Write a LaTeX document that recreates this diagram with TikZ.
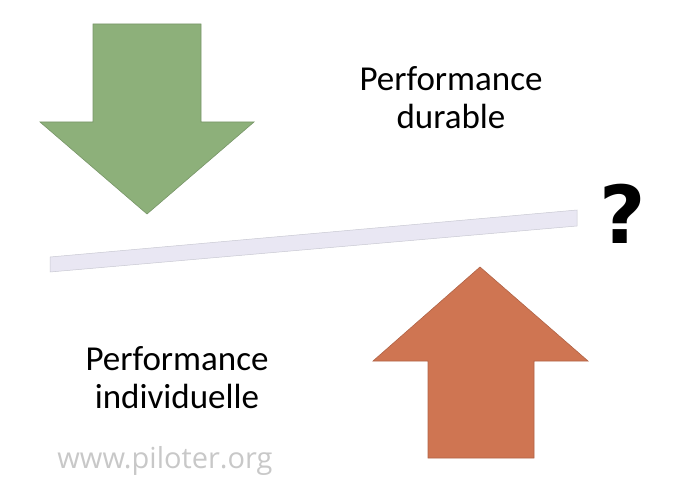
\documentclass[tikz,border=0pt]{standalone}
\usepackage{fontspec}
\setmainfont{Carlito}
\newfontfamily\webfont{Open Sans}
\newfontfamily\markfont{DejaVu Sans}
\usetikzlibrary{positioning}

\definecolor{greenarrow}{RGB}{141,176,122}
\definecolor{orangearrow}{RGB}{207,117,82}
\definecolor{barfill}{RGB}{233,231,243}
\definecolor{baredge}{RGB}{200,200,210}
\definecolor{webgray}{RGB}{200,200,200}

\begin{document}
\begin{tikzpicture}[x=1pt, y=-1pt,
    bigtext/.style={align=center, inner sep=0pt, font=\fontsize{35}{38}\selectfont},
    fatarrow/.style={line width=0.6pt, line join=miter}]
    \useasboundingbox (0,0) rectangle (700,489);

    % Arrows
    \filldraw[fatarrow, fill=greenarrow, draw=greenarrow!85!black]
        (93,24) -- (201,24) -- (201,122) -- (254,122) -- (147,214)
        -- (40,122) -- (93,122) -- cycle;
    \filldraw[fatarrow, fill=orangearrow, draw=orangearrow!85!black]
        (428,458) -- (534,458) -- (534,361) -- (588,361) -- (480,267)
        -- (373,361) -- (428,361) -- cycle;

    % Bar
    \filldraw[fill=barfill, draw=baredge, line width=0.5pt]
        (50,257) -- (577,210) -- (577,226) -- (50,272) -- cycle;

    % Nodes
    \node[bigtext] (durable) at (451,98) {Performance\\durable};
    \node[bigtext] (individual) at (177,378) {Performance\\individuelle};
    \node[font=\markfont\bfseries\fontsize{80}{80}\selectfont, inner sep=0pt] (question) at (623,214) {?};
    \node[font=\webfont\fontsize{29}{32}\selectfont, text=webgray, inner sep=0pt, anchor=base] (website) at (165,468) {www.piloter.org};
\end{tikzpicture}
\end{document}
